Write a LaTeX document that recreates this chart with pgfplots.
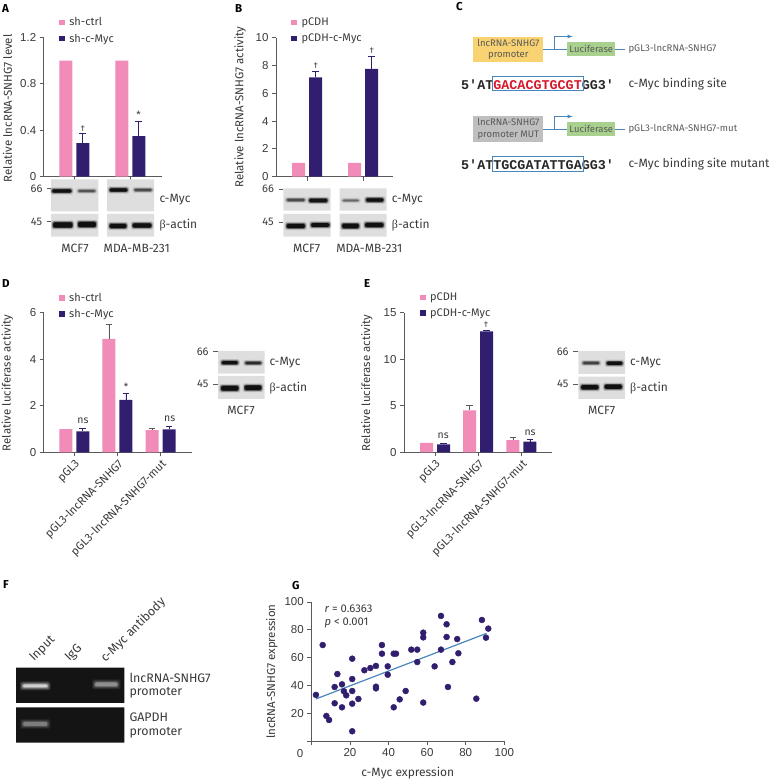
\documentclass[border=0pt]{standalone}
\usepackage{fontspec}
\setmainfont{Fira Sans}
\newfontfamily\betafont{Liberation Serif}
\newfontfamily\tickfont{Liberation Sans}
\newfontfamily\seqfont{Liberation Mono}[BoldFont={Liberation Mono Bold}]
\usepackage{pgfplots}
\pgfplotsset{compat=1.18}

\definecolor{barpink}{HTML}{F18BB7}
\definecolor{barnavy}{HTML}{321E6E}
\definecolor{txt}{HTML}{3A3A3A}
\definecolor{axisgray}{HTML}{5A5A5A}
\definecolor{linkblue}{HTML}{4A86BC}
\definecolor{boxyellow}{HTML}{F9D272}
\definecolor{boxgreen}{HTML}{A9D18E}
\definecolor{boxgray}{HTML}{BFBFBF}
\definecolor{seqred}{HTML}{D7182A}
\definecolor{blotbg}{HTML}{DEDEDE}

\newcommand{\fs}[1]{\fontsize{#1}{#1}\selectfont}

\pgfplotsset{
  panel/.style={
    scale only axis, anchor=south west, clip=false,
    axis x line*=bottom, axis y line*=left,
    axis line style={-,draw=axisgray,line width=.8pt},
    tick style={draw=axisgray,line width=.8pt},
    tick align=outside, major tick length=4pt,
    xtick pos=bottom, ytick pos=left,
    ticklabel style={text=txt,font=\tickfont\fs{11.5}},
    /pgf/number format/assume math mode=true,
    label style={text=txt,font=\fs{11.5}},
  },
  barpanel/.style={
    panel, ybar=4pt, bar width=13pt, ymin=0,
    legend image code/.code={\fill[##1,draw=none] (0pt,-2.8pt) rectangle (5.6pt,2.8pt);},
    legend cell align=left,
    legend style={draw=none,fill=none,inner sep=0pt,row sep=6.5pt,font=\fs{11},text=txt,
      nodes={inner sep=0pt},/tikz/every odd column/.append style={column sep=4.5pt}},
  },
  rotlabels/.style={
    xticklabels={pGL3,pGL3-lncRNA-SNHG7,pGL3-lncRNA-SNHG7-mut},
    xtick={0,1,2},
    xticklabel style={rotate=45,anchor=north east,inner sep=1.5pt,font=\fs{11.4}},
  },
  pinkbar/.style={fill=barpink,draw=none,
    error bars/.cd,y dir=plus,y explicit,
    error bar style={draw=axisgray,line width=.8pt},
    error mark options={rotate=90,draw=axisgray,mark size=3.3pt,line width=.8pt}},
  navybar/.style={fill=barnavy,draw=none,
    error bars/.cd,y dir=plus,y explicit,
    error bar style={draw=barnavy,line width=.8pt},
    error mark options={rotate=90,draw=barnavy,mark size=3.3pt,line width=.8pt}},
}

% band on a blot: x1, x2, y centre, thickness, strength
\newcommand{\band}[5]{%
  \foreach \d/\o in {1.8/0.12,1.0/0.25,0.4/0.45,-0.2/0.8}{
    \fill[black,opacity=#5*\o,rounded corners=1.5pt]
      ({#1-\d},{#3-#4/2-\d}) rectangle ({#2+\d},{#3+#4/2+\d});
  }}
\newcommand{\gband}[5]{%
  \foreach \d/\o in {3/0.12,2/0.18,1/0.3,0/0.6}{
    \fill[white,opacity=#5*\o,rounded corners=2pt]
      ({#1-\d},{#3-#4/2-\d}) rectangle ({#2+\d},{#3+#4/2+\d});
  }}
\newcommand{\lab}[3]{\node[anchor=west,inner sep=0pt,text=txt,font=\fs{#3}] at (#1) {#2};}
\newcommand{\clab}[3]{\node[inner sep=0pt,text=txt,font=\fs{#3}] at (#1) {#2};}
\newcommand{\letter}[2]{\node[anchor=west,inner sep=0pt,text=black,font=\fs{11.5}\bfseries] at (#1) {#2};}
\newcommand{\actin}{{\betafont β}-actin}

\begin{document}
\begin{tikzpicture}
\path[use as bounding box] (0pt,0pt) rectangle (770pt,781pt);

% A
\begin{axis}[barpanel, at={(43.7pt,604.3pt)}, width=118pt, height=139.4pt,
  xmin=-0.546, xmax=1.561, ymax=1.2, ytick={0,0.4,0.8,1.2}, xtick={0,1}, xticklabels={},
  ylabel={Relative lncRNA-SNHG7 level},
  ylabel style={at={(axis description cs:-0.308,0.49)},anchor=center},
  legend style={at={(axis description cs:0.13,1.143)},anchor=north west}]
\addplot+[pinkbar] coordinates {(0,1) (1,1)};
\addplot+[navybar] coordinates {(0,0.29) +- (0,0.08) (1,0.35) +- (0,0.13)};
\addlegendentry{sh-ctrl}
\addlegendentry{sh-c-Myc}
\node[text=txt,font=\fs{8.5}] at (axis cs:0.15,0.417) {†};
\node[text=txt,font=\fs{10}] at (axis cs:1.15,0.53) {*};
\end{axis}

% B
\begin{axis}[barpanel, at={(276pt,604.3pt)}, width=117.3pt, height=139pt,
  xmin=-0.554, xmax=1.541, ymax=10, ytick={0,2,4,6,8,10}, xtick={0,1}, xticklabels={},
  ylabel={Relative lncRNA-SNHG7 activity},
  ylabel style={at={(axis description cs:-0.307,0.5)},anchor=center},
  legend style={at={(axis description cs:0.13,1.143)},anchor=north west}]
\addplot+[pinkbar] coordinates {(0,1) (1,1)};
\addplot+[navybar] coordinates {(0,7.15) +- (0,0.45) (1,7.75) +- (0,0.9)};
\addlegendentry{pCDH}
\addlegendentry{pCDH-c-Myc}
\node[text=txt,font=\fs{8.5}] at (axis cs:0.155,8.0) {†};
\node[text=txt,font=\fs{8.5}] at (axis cs:1.155,9.06) {†};
\end{axis}

% D
\begin{axis}[barpanel, rotlabels, at={(43.7pt,328.7pt)}, width=148pt, height=139.6pt,
  xmin=-0.708, xmax=2.718, ymax=6, ytick={0,2,4,6},
  ylabel={Relative luciferase activity},
  ylabel style={at={(axis description cs:-0.246,0.496)},anchor=center},
  legend style={at={(axis description cs:0.103,1.143)},anchor=north west}]
\addplot+[pinkbar] coordinates {(0,1) (1,4.87) +- (0,0.62) (2,0.95) +- (0,0.07)};
\addplot+[navybar] coordinates {(0,0.9) +- (0,0.12) (1,2.25) +- (0,0.28) (2,0.98) +- (0,0.13)};
\addlegendentry{sh-ctrl}
\addlegendentry{sh-c-Myc}
\node[text=txt,font=\fs{10.5}] at (axis cs:0.2,1.35) {ns};
\node[text=txt,font=\fs{10}] at (axis cs:1.197,2.8) {*};
\node[text=txt,font=\fs{10.5}] at (axis cs:2.208,1.45) {ns};
\end{axis}

% E
\begin{axis}[barpanel, rotlabels, at={(404pt,328.7pt)}, width=148.3pt, height=139.6pt,
  xmin=-0.718, xmax=2.715, ymax=15, ytick={0,5,10,15},
  ylabel={Relative luciferase activity},
  ylabel style={at={(axis description cs:-0.25,0.496)},anchor=center},
  legend style={at={(axis description cs:0.107,1.143)},anchor=north west}]
\addplot+[pinkbar] coordinates {(0,1) (1,4.5) +- (0,0.55) (2,1.3) +- (0,0.3)};
\addplot+[navybar] coordinates {(0,0.85) +- (0,0.12) (1,13) +- (0,0.12) (2,1.15) +- (0,0.2)};
\addlegendentry{pCDH}
\addlegendentry{pCDH-c-Myc}
\node[text=txt,font=\fs{10.5}] at (axis cs:0.19,1.75) {ns};
\node[text=txt,font=\fs{8.5}] at (axis cs:1.18,13.75) {†};
\node[text=txt,font=\fs{10.5}] at (axis cs:2.2,2.15) {ns};
\end{axis}

% G
\begin{axis}[panel, at={(311.3pt,39.7pt)}, width=193pt, height=139.3pt,
  xmin=0, xmax=100, ymin=0, ymax=100,
  xtick={0,20,40,60,80,100}, ytick={0,20,40,60,80,100},
  xticklabels={,20,40,60,80,100}, yticklabels={,20,40,60,80,100},
  xlabel={c-Myc expression}, ylabel={lncRNA-SNHG7 expression},
  xlabel style={at={(axis description cs:0.5,-0.228)},anchor=center,font=\fs{12}},
  ylabel style={at={(axis description cs:-0.204,0.5)},anchor=center}]
\addplot[only marks,mark=*,mark size=3pt,mark options={fill=barnavy,draw=barnavy}] coordinates {
 (2.4,33.3)(5.9,69.1)(7.8,18.2)(9.2,15.3)(12.1,39)(12.1,27.3)(13.5,48.3)(15.9,40.9)(15.9,24.4)
 (16.9,35.9)(18.1,33)(21.2,59.3)(21.2,44.7)(21.2,36.1)(21.2,27)(21.2,7.2)(24.4,30.4)(27.5,51)
 (30.6,52.6)(33.5,54.1)(33.5,39.2)(33.5,38)(36.6,69.1)(36.6,62.9)(39.6,53.8)(39.6,47.8)(42.7,62.9)
 (43.9,62.9)(42.7,24.4)(45.8,30.1)(48.9,36.1)(51.8,65.8)(54.9,65.8)(54.9,56.9)(58,78)(58,74.6)
 (58,27.8)(63.9,53.8)(67.2,90)(67.2,65.8)(70.1,84)(70.1,74.9)(70.8,39)(73.1,56.9)(75.6,73.4)
 (76.2,63.2)(85.5,30.6)(88.4,87.1)(90.5,74.4)(91.7,80.9)};
\addplot[linkblue,line width=1.2pt] coordinates {(2.4,30.4)(90.8,77.5)};
\node[anchor=west,inner sep=0pt,text=txt,font=\fs{11.2}] at (axis cs:6.8,95.5) {\textit{r} = 0.6363};
\node[anchor=west,inner sep=0pt,text=txt,font=\fs{11.2}] at (axis cs:6.8,85) {\textit{p} < 0.001};
\end{axis}

% everything that is not an axis, in reference pixels
\begin{scope}[x=1pt,y=-1pt,shift={(0pt,781pt)}]
\letter{2,9}{A}
\letter{235,9}{B}
\letter{456,7}{C}
\letter{2,284}{D}
\letter{364,284}{E}
\letter{3,585}{F}
\letter{292,586}{G}
\node[inner sep=0pt,text=txt,font=\tickfont\fs{11.5}] at (300,754) {0};

% blots A
\fill[blotbg] (51,179.3) rectangle (98.3,211.3) (107,179.3) rectangle (154,211.3);
\fill[blotbg] (51,214) rectangle (98.3,236.7) (107,214) rectangle (154,236.7);
\band{52}{71.5}{191}{3.5}{1} \band{78}{95.5}{191}{2.5}{0.5}
\band{109.5}{127.5}{190}{3.5}{1} \band{134}{152}{190}{2.8}{0.55}
\band{53}{72.5}{225}{5.5}{1} \band{78}{96}{224.5}{5.5}{1}
\band{109.5}{126.5}{226}{4.5}{1} \band{132.5}{151.5}{225.5}{4.5}{1}
\clab{36.5,188.5}{66}{11} \draw[axisgray,line width=.7pt] (46.5,188.5) -- (50.7,188.5);
\clab{36.5,221.7}{45}{11} \draw[axisgray,line width=.7pt] (46.5,221.7) -- (50.7,221.7);
\lab{159.3,200}{c-Myc}{12} \lab{159.3,225}{\actin}{12}
\clab{75,248}{MCF7}{12} \clab{136.7,248}{MDA-MB-231}{12}

% blots B
\fill[blotbg] (283.3,188.3) rectangle (330.7,210.7) (339.7,188.3) rectangle (386.7,210.7);
\fill[blotbg] (283.3,214) rectangle (330.7,236.7) (339.7,214) rectangle (386.7,236.7);
\band{286.5}{305}{200}{2.8}{0.55} \band{309}{327.5}{200.5}{3.8}{0.95}
\band{342.5}{359}{200.5}{2.2}{0.4} \band{366}{383.5}{200}{3.8}{1}
\band{286.5}{305}{226}{4.5}{1} \band{311}{329.5}{225}{4}{1}
\band{342}{359}{226}{4.8}{1} \band{365}{383.5}{225}{4.5}{1}
\clab{268,189.3}{66}{11} \draw[axisgray,line width=.7pt] (278.7,189) -- (283.3,189);
\clab{268,222.3}{45}{11} \draw[axisgray,line width=.7pt] (278.7,222) -- (283.3,222);
\lab{391.7,200}{c-Myc}{12} \lab{391.7,225}{\actin}{12}
\clab{306.7,248}{MCF7}{12} \clab{369.3,248}{MDA-MB-231}{12}

% blot D
\fill[blotbg] (218,351) rectangle (264.7,373.7) (218,376) rectangle (264.7,399);
\band{221.5}{238}{362.7}{3.5}{1} \band{245}{261.5}{363}{2.8}{0.75}
\band{221}{238.5}{388.3}{5}{1} \band{244.5}{261.5}{387.8}{5}{1}
\clab{202.7,351.7}{66}{11} \draw[axisgray,line width=.7pt] (213,351.5) -- (217.5,351.5);
\clab{202.7,384.3}{45}{11} \draw[axisgray,line width=.7pt] (213,384.5) -- (217.5,384.5);
\lab{269.3,362.7}{c-Myc}{12} \lab{269.3,388.3}{\actin}{12}
\clab{241,410}{MCF7}{12}

% blot E
\fill[blotbg] (578.3,351) rectangle (625,374) (578.3,376.7) rectangle (625,399);
\band{582.5}{599.5}{363}{2.8}{0.6} \band{606.5}{622.5}{363.3}{3.5}{1}
\band{581}{598.5}{387.3}{4.5}{1} \band{604.5}{622}{386.8}{4.5}{1}
\clab{562.7,351.7}{66}{11} \draw[axisgray,line width=.7pt] (573.3,351.5) -- (578,351.5);
\clab{562.7,384.3}{45}{11} \draw[axisgray,line width=.7pt] (573.3,384.5) -- (578,384.5);
\lab{630,362.7}{c-Myc}{12} \lab{630,388.3}{\actin}{12}
\clab{601.7,410}{MCF7}{12}

% C: constructs
\fill[boxyellow] (473.3,36.7) rectangle (543.3,62);
\node[align=center,inner sep=0pt,text=black!65,font=\fs{9.5}] at (508.3,49.3) {lncRNA-SNHG7\\[2pt]promoter};
\fill[boxgray] (473.3,116.3) rectangle (543.3,141.7);
\node[align=center,inner sep=0pt,text=black!65,font=\fs{9.5}] at (508.3,129) {lncRNA-SNHG7\\[2pt]promoter MUT};
\foreach \yy/\lbl in {49.3/pGL3-lncRNA-SNHG7,129.3/pGL3-lncRNA-SNHG7-mut}{
  \draw[linkblue,line width=.8pt] (543.3,\yy) -- (567.3,\yy) (615.3,\yy) -- (624.7,\yy);
  \draw[linkblue,line width=.8pt,-latex] (554.7,\yy) -- ++(0,-12.8) -- ++(18,0);
  \fill[boxgreen] (567.3,\yy-7) rectangle (615.3,\yy+6.7);
  \node[inner sep=0pt,text=black!65,font=\fs{9.5}] at (591.3,\yy) {Luciferase};
  \node[anchor=west,inner sep=0pt,text=black!65,font=\fs{9.6}] at (628.3,\yy) {\lbl};
}
\node[anchor=west,inner sep=0pt,text=black!85,font=\fs{13.4}\seqfont\bfseries] at (461,84.3) {5'AT\textcolor{seqred}{GACACGTGCGT}GG3'};
\node[anchor=west,inner sep=0pt,text=black!85,font=\fs{13.4}\seqfont\bfseries] at (461,164.3) {5'ATTGCGATATTGAGG3'};
\draw[linkblue,line width=1pt] (492.7,77) rectangle (583.3,91);
\draw[linkblue,line width=1pt] (492.7,157) rectangle (583.3,171.3);
\lab{628.3,84.3}{c-Myc binding site}{12}
\lab{628.3,164.3}{c-Myc binding site mutant}{12}

% F: gels
\fill[black!92] (16,667.7) rectangle (124.3,703) (16,707.3) rectangle (124.3,742.7);
\gband{23}{47.5}{686}{3}{1}
\gband{95}{117.5}{684.5}{4}{0.55}
\gband{23}{47.5}{724}{4}{0.45}
\node[anchor=south west,rotate=45,inner sep=0pt,text=txt,font=\fs{12.4}] at (36,664) {Input};
\node[anchor=south west,rotate=45,inner sep=0pt,text=txt,font=\fs{12.4}] at (71.5,664) {IgG};
\node[anchor=south west,rotate=45,inner sep=0pt,text=txt,font=\fs{12.4}] at (107.5,665) {c-Myc antibody};
\lab{129.3,677.7}{lncRNA-SNHG7}{12.4}
\lab{129.3,692.7}{promoter}{12.4}
\lab{129.3,717.7}{GAPDH}{12.4}
\lab{129.3,733}{promoter}{12.4}
\end{scope}
\end{tikzpicture}
\end{document}
